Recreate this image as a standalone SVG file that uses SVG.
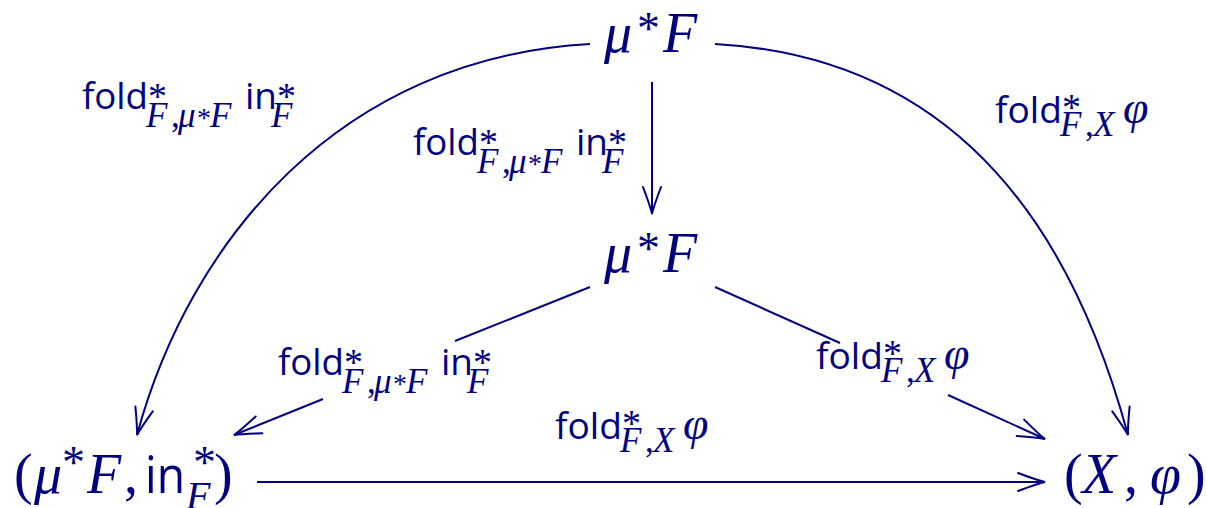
<svg xmlns="http://www.w3.org/2000/svg" width="1207" height="508" viewBox="0 0 1207 508">
<defs>
<style>
.mi{font-family:"Liberation Serif",serif;font-style:italic;fill:#000080}
.mr{font-family:"Liberation Serif",serif;fill:#000080}
.sf{font-family:"Open Sans",sans-serif;fill:#000080}
.c{fill:none;stroke:#000080;stroke-width:2}
.sub{font-size:35px}
.sup{font-size:38px}
.ss{font-size:28px}
</style>
<marker id="to" markerUnits="userSpaceOnUse" orient="auto" markerWidth="40" markerHeight="30" viewBox="-30 -15 40 30" refX="0" refY="0" overflow="visible">
<path d="M-27,-9 Q-7,-1.5 0,0 Q-7,1.5 -27,9" fill="none" stroke="#000080" stroke-width="2" stroke-linecap="round"/>
</marker>
</defs>
<rect width="1207" height="508" fill="#fff"/>
<g id="connectors">
<path class="c" d="M590,44 C340,58 190,240 137,435" marker-end="url(#to)"/>
<path class="c" d="M715,44 C965,58 1075,240 1128,435" marker-end="url(#to)"/>
<path class="c" d="M652,82 L652,214" marker-end="url(#to)"/>
<path class="c" d="M590,287 L455,341"/>
<path class="c" d="M323,399 L234,435" marker-end="url(#to)"/>
<path class="c" d="M715,287 L840,343"/>
<path class="c" d="M948,395 L1045,439" marker-end="url(#to)"/>
<path class="c" d="M257,482 L1045,482" marker-end="url(#to)"/>
</g>
<g id="node-top">
<text class="mi" x="604" y="52" font-size="56">μ</text>
<text class="mr" x="637" y="44" font-size="46">*</text>
<text class="mi" x="663" y="52" font-size="56">F</text>
</g>
<g id="node-mid">
<text class="mi" x="604" y="272" font-size="56">μ</text>
<text class="mr" x="637" y="264" font-size="46">*</text>
<text class="mi" x="663" y="272" font-size="56">F</text>
</g>
<g id="node-left">
<text class="mr" x="14" y="493" font-size="56">(</text>
<text class="mi" x="34" y="493" font-size="56">μ</text>
<text class="mr" x="62" y="478" font-size="46">*</text>
<text class="mi" x="87" y="493" font-size="56">F</text>
<text class="mr" x="124" y="493" font-size="56">,</text>
<text class="sf" x="145" y="493" font-size="52" textLength="40" lengthAdjust="spacingAndGlyphs">in</text>
<text class="mr" x="193" y="478" font-size="46">*</text>
<text class="mi" x="186" y="509" font-size="40">F</text>
<text class="mr" x="214" y="493" font-size="56">)</text>
</g>
<g id="node-right">
<text class="mr" x="1064" y="493" font-size="56">(</text>
<text class="mi" x="1082" y="493" font-size="56">X</text>
<text class="mr" x="1124" y="493" font-size="56">,</text>
<text class="mi" x="1150" y="493" font-size="56">φ</text>
<text class="mr" x="1187" y="493" font-size="56">)</text>
</g>
<g id="label-top-left">
<text class="sf" x="82" y="109" font-size="36" textLength="66" lengthAdjust="spacingAndGlyphs">fold</text>
<text class="mr sup" x="148" y="109">*</text>
<text class="mi sub" x="146" y="127">F</text>
<text class="mr sub" x="171" y="127">,</text>
<text class="mi sub" x="178" y="127">μ</text>
<text class="mr ss" x="197" y="127">*</text>
<text class="mi sub" x="210" y="127">F</text>
<text class="sf" x="245" y="109" font-size="36" textLength="32" lengthAdjust="spacingAndGlyphs">in</text>
<text class="mr sup" x="277" y="109">*</text>
<text class="mi sub" x="271" y="127">F</text>
</g>
<g id="label-vertical">
<text class="sf" x="413" y="155" font-size="36" textLength="66" lengthAdjust="spacingAndGlyphs">fold</text>
<text class="mr sup" x="479" y="155">*</text>
<text class="mi sub" x="477" y="173">F</text>
<text class="mr sub" x="502" y="173">,</text>
<text class="mi sub" x="509" y="173">μ</text>
<text class="mr ss" x="528" y="173">*</text>
<text class="mi sub" x="541" y="173">F</text>
<text class="sf" x="576" y="155" font-size="36" textLength="32" lengthAdjust="spacingAndGlyphs">in</text>
<text class="mr sup" x="608" y="155">*</text>
<text class="mi sub" x="602" y="173">F</text>
</g>
<g id="label-mid-left">
<text class="sf" x="278" y="375" font-size="36" textLength="66" lengthAdjust="spacingAndGlyphs">fold</text>
<text class="mr sup" x="344" y="375">*</text>
<text class="mi sub" x="342" y="393">F</text>
<text class="mr sub" x="367" y="393">,</text>
<text class="mi sub" x="374" y="393">μ</text>
<text class="mr ss" x="393" y="393">*</text>
<text class="mi sub" x="406" y="393">F</text>
<text class="sf" x="441" y="375" font-size="36" textLength="32" lengthAdjust="spacingAndGlyphs">in</text>
<text class="mr sup" x="473" y="375">*</text>
<text class="mi sub" x="467" y="393">F</text>
</g>
<g id="label-top-right">
<text class="sf" x="995" y="123" font-size="36" textLength="67" lengthAdjust="spacingAndGlyphs">fold</text>
<text class="mr sup" x="1062" y="120">*</text>
<text class="mi sub" x="1060" y="136">F</text>
<text class="mr sub" x="1085" y="136">,</text>
<text class="mi sub" x="1093" y="136">X</text>
<text class="mi" x="1123" y="123" font-size="46">φ</text>
</g>
<g id="label-mid-right">
<text class="sf" x="816" y="369" font-size="36" textLength="67" lengthAdjust="spacingAndGlyphs">fold</text>
<text class="mr sup" x="883" y="366">*</text>
<text class="mi sub" x="881" y="382">F</text>
<text class="mr sub" x="906" y="382">,</text>
<text class="mi sub" x="914" y="382">X</text>
<text class="mi" x="944" y="369" font-size="46">φ</text>
</g>
<g id="label-bottom">
<text class="sf" x="555" y="439" font-size="36" textLength="67" lengthAdjust="spacingAndGlyphs">fold</text>
<text class="mr sup" x="622" y="436">*</text>
<text class="mi sub" x="620" y="452">F</text>
<text class="mr sub" x="645" y="452">,</text>
<text class="mi sub" x="653" y="452">X</text>
<text class="mi" x="683" y="439" font-size="46">φ</text>
</g>
</svg>
